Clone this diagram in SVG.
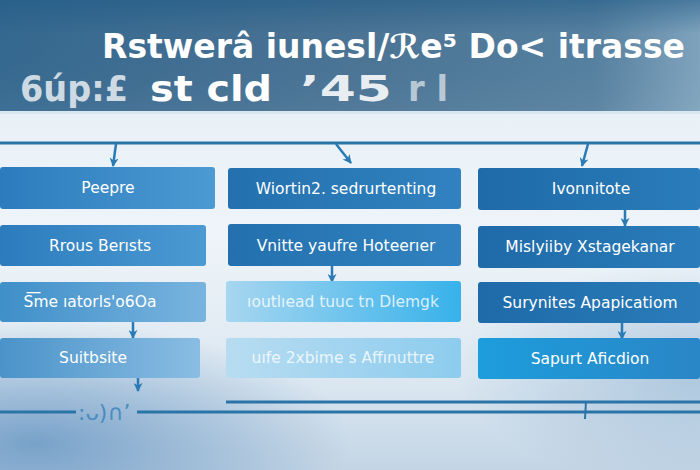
<svg xmlns="http://www.w3.org/2000/svg" width="700" height="470" viewBox="0 0 700 470">
<defs>
<linearGradient id="band" x1="0" y1="0" x2="1" y2="0">
<stop offset="0" stop-color="#35688f"/>
<stop offset="0.5" stop-color="#4a7394"/>
<stop offset="0.85" stop-color="#56809f"/>
<stop offset="1" stop-color="#7fa3bd"/>
</linearGradient>
<linearGradient id="bandV" x1="0" y1="0" x2="0" y2="1">
<stop offset="0" stop-color="#1f5a86" stop-opacity="0.55"/>
<stop offset="0.3" stop-color="#1f5a86" stop-opacity="0"/>
<stop offset="1" stop-color="#ffffff" stop-opacity="0.05"/>
</linearGradient>
<linearGradient id="bg" x1="0" y1="0" x2="0" y2="1">
<stop offset="0" stop-color="#e4eef6"/>
<stop offset="0.5" stop-color="#eef4f9"/>
<stop offset="0.8" stop-color="#dde8f1"/>
<stop offset="1" stop-color="#c3d5e5"/>
</linearGradient>
<radialGradient id="glowL" cx="0.05" cy="0.9" r="0.45">
<stop offset="0" stop-color="#5d8fbf" stop-opacity="0.75"/>
<stop offset="1" stop-color="#5d8fbf" stop-opacity="0"/>
</radialGradient>
<radialGradient id="glowR" cx="1" cy="0.7" r="0.35">
<stop offset="0" stop-color="#7ea7cc" stop-opacity="0.5"/>
<stop offset="1" stop-color="#7ea7cc" stop-opacity="0"/>
</radialGradient>
<linearGradient id="mid1" x1="0" y1="0" x2="1" y2="0">
<stop offset="0" stop-color="#2c7cbd"/>
<stop offset="1" stop-color="#4c9ad3"/>
</linearGradient>
<linearGradient id="light1" x1="0" y1="0" x2="1" y2="0">
<stop offset="0" stop-color="#3f8fc9"/>
<stop offset="1" stop-color="#79b4df"/>
</linearGradient>
<linearGradient id="light1b" x1="0" y1="0" x2="1" y2="0">
<stop offset="0" stop-color="#4a93c9"/>
<stop offset="1" stop-color="#8abde3"/>
</linearGradient>
<linearGradient id="c2dark" x1="0" y1="0" x2="1" y2="0">
<stop offset="0" stop-color="#2470ae"/>
<stop offset="1" stop-color="#3182c0"/>
</linearGradient>
<linearGradient id="c2cyan" x1="0" y1="0" x2="1" y2="0">
<stop offset="0" stop-color="#a7d6f0"/>
<stop offset="1" stop-color="#37b2ea"/>
</linearGradient>
<linearGradient id="c2pale" x1="0" y1="0" x2="1" y2="0">
<stop offset="0" stop-color="#b7dcf1"/>
<stop offset="1" stop-color="#8dccee"/>
</linearGradient>
<linearGradient id="c3dark" x1="0" y1="0" x2="1" y2="0">
<stop offset="0" stop-color="#1f6aa8"/>
<stop offset="1" stop-color="#2a7cba"/>
</linearGradient>
<linearGradient id="c3bright" x1="0" y1="0" x2="1" y2="0">
<stop offset="0" stop-color="#1d9ddc"/>
<stop offset="1" stop-color="#2a86c6"/>
</linearGradient>
<marker id="ah" viewBox="0 0 10 10" refX="9" refY="5" markerWidth="9" markerHeight="9" orient="auto" markerUnits="userSpaceOnUse">
<path d="M0,0 L10,5 L0,10 L3,5 z" fill="#2a7bb5"/>
</marker>
<style>
.box{rx:3;}
.lbl{font-family:"DejaVu Sans","Liberation Sans",sans-serif;font-size:15.5px;fill:#ffffff;text-anchor:middle;}
.fade{fill:#ffffff;fill-opacity:0.8;}
.title{font-family:"DejaVu Sans","Liberation Sans",sans-serif;font-weight:bold;fill:#ffffff;}
.line{stroke:#2a74a8;stroke-width:3;fill:none;}
.arr{stroke:#2a7bb5;stroke-width:2.5;fill:none;marker-end:url(#ah);}
</style>
</defs>

<rect x="0" y="0" width="700" height="470" fill="url(#bg)"/>
<rect x="0" y="200" width="700" height="270" fill="url(#glowL)"/>
<rect x="0" y="150" width="700" height="320" fill="url(#glowR)"/>
<rect x="0" y="0" width="700" height="113" fill="url(#band)"/>
<rect x="0" y="0" width="700" height="113" fill="url(#bandV)"/>
<rect x="0" y="111" width="700" height="3" fill="#d9e7f1"/>

<g id="title">
<text class="title" x="102" y="58" font-size="33" textLength="583" lengthAdjust="spacingAndGlyphs">Rstwerâ iunesl/ℛe⁵ Do&lt; itrasse</text>
<text class="title" x="20" y="101" font-size="36" fill-opacity="0.75" textLength="108" lengthAdjust="spacingAndGlyphs">6úp:£</text>
<text class="title" x="150" y="101" font-size="36" textLength="122" lengthAdjust="spacingAndGlyphs">st cld</text>
<text class="title" x="300" y="101" font-size="36" fill-opacity="0.9" textLength="92" lengthAdjust="spacingAndGlyphs">’45</text>
<text class="title" x="408" y="101" font-size="36" fill-opacity="0.6" textLength="40" lengthAdjust="spacingAndGlyphs">r l</text>
</g>

<g id="connectors">
<line class="line" x1="0" y1="143" x2="700" y2="143"/>
<line class="arr" x1="116" y1="144" x2="113" y2="166"/>
<line class="arr" x1="336" y1="144" x2="351" y2="163"/>
<line class="arr" x1="588" y1="144" x2="582" y2="166"/>
<line class="arr" x1="625" y1="210" x2="625" y2="226"/>
<line class="arr" x1="332" y1="266" x2="332" y2="282"/>
<line class="arr" x1="133" y1="322" x2="133" y2="338"/>
<line class="arr" x1="622" y1="323" x2="622" y2="339"/>
<line class="arr" x1="138" y1="378" x2="138" y2="391"/>
<line class="line" x1="226" y1="402" x2="700" y2="402"/>
<line class="line" x1="0" y1="412" x2="76" y2="412"/>
<line class="line" x1="137" y1="412" x2="700" y2="412"/>
<line stroke="#2a74a8" stroke-width="2" x1="586" y1="401" x2="585" y2="419"/>
<text x="78" y="420" font-family="DejaVu Sans, sans-serif" font-size="22" fill="#4a8cbf">:ᴗ)∩’</text>
</g>

<g id="n1"><rect class="box" x="0" y="167" width="215" height="42" fill="url(#mid1)"/><text class="lbl" x="108" y="193">Peepre</text></g>
<g id="n2"><rect class="box" x="0" y="225" width="206" height="41" fill="url(#mid1)"/><text class="lbl" x="100" y="251">Rrous Berısts</text></g>
<g id="n3"><rect class="box" x="0" y="282" width="206" height="40" fill="url(#light1)"/><text class="lbl" x="90" y="307">S͞me ıatorls'o6Oa</text></g>
<g id="n4"><rect class="box" x="0" y="338" width="200" height="40" fill="url(#light1b)"/><text class="lbl" x="93" y="363">Suitbsite</text></g>

<g id="n5"><rect class="box" x="228" y="168" width="233" height="41" fill="url(#c2dark)"/><text class="lbl" x="346" y="194">Wiortin2. sedrurtenting</text></g>
<g id="n6"><rect class="box" x="228" y="224" width="233" height="42" fill="url(#c2dark)"/><text class="lbl" x="346" y="251">Vnitte yaufre Hoteerıer</text></g>
<g id="n7"><rect class="box" x="226" y="281" width="235" height="41" fill="url(#c2cyan)"/><text class="lbl fade" x="343" y="307">ıoutlıead tuuc tn Dlemgk</text></g>
<g id="n8"><rect class="box" x="226" y="338" width="235" height="40" fill="url(#c2pale)"/><text class="lbl fade" x="343" y="363">uıfe 2xbime s Affınuttre</text></g>

<g id="n9"><rect class="box" x="478" y="168" width="222" height="42" fill="url(#c3dark)"/><text class="lbl" x="591" y="194">Ivonnitote</text></g>
<g id="n10"><rect class="box" x="478" y="226" width="222" height="42" fill="url(#c3dark)"/><text class="lbl" x="590" y="252">Mislyiiby Xstagekanar</text></g>
<g id="n11"><rect class="box" x="478" y="282" width="222" height="41" fill="url(#c3dark)"/><text class="lbl" x="590" y="308">Surynites Apapicatiom</text></g>
<g id="n12"><rect class="box" x="478" y="338" width="222" height="41" fill="url(#c3bright)"/><text class="lbl" x="590" y="364">Sapurt Aficdion</text></g>
</svg>
